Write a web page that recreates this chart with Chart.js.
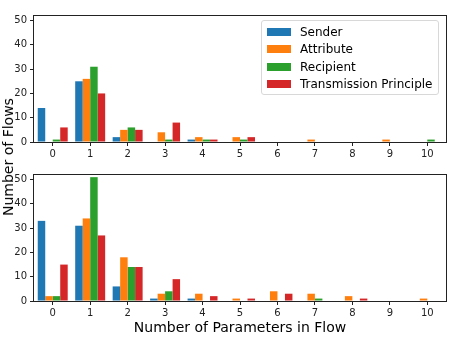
<!DOCTYPE html>
<html>
<head>
<meta charset="utf-8">
<script src="https://cdn.jsdelivr.net/npm/chart.js@4"></script>
<style>
  body { margin: 0; background: #fff; }
  #wrap { position: relative; width: 463px; height: 347px; font-family: "DejaVu Sans", sans-serif; color: #000; }
  #top { position: absolute; left: 0; top: 0; }
  #bottom { position: absolute; left: 0; top: 165px; }
  .ylabel { position: absolute; left: 8px; top: 157px; font-size: 14px; white-space: nowrap;
            transform: translate(-50%, -50%) rotate(-90deg); }
  .xlabel { position: absolute; left: 240px; top: 327px; font-size: 14px; white-space: nowrap;
            transform: translate(-50%, -50%); }
  .legend { position: absolute; left: 261px; top: 20px; width: 176px; height: 73px;
            border: 1px solid #d8d8d8; border-radius: 3px; background: rgba(255,255,255,0.8); font-size: 12px; }
  .legend div { position: absolute; left: 38px; white-space: nowrap; line-height: 14px; }
  .legend span { position: absolute; left: -33px; top: 3px; width: 24px; height: 8px; }
</style>
</head>
<body>
<div id="wrap">
  <canvas id="top" width="463" height="165"></canvas>
  <canvas id="bottom" width="463" height="182"></canvas>
  <div class="ylabel">Number of Flows</div>
  <div class="xlabel">Number of Parameters in Flow</div>
  <div class="legend" id="legend"></div>
</div>
<script>
"use strict";

var categories = ['0', '1', '2', '3', '4', '5', '6', '7', '8', '9', '10'];
var seriesNames = ['Sender', 'Attribute', 'Recipient', 'Transmission Principle'];
var colors = ['#1f77b4', '#ff7f0e', '#2ca02c', '#d62728'];
var yTicks = [0, 10, 20, 30, 40, 50];

// top panel
var topSender       = [14, 25, 2, 0, 1, 0, 0, 0, 0, 0, 0];
var topAttribute    = [0, 26, 5, 4, 2, 2, 0, 1, 0, 1, 0];
var topRecipient    = [1, 31, 6, 1, 1, 1, 0, 0, 0, 0, 1];
var topTransmission = [6, 20, 5, 8, 1, 2, 0, 0, 0, 0, 0];

// bottom panel
var botSender       = [33, 31, 6, 1, 1, 0, 0, 0, 0, 0, 0];
var botAttribute    = [2, 34, 18, 3, 3, 1, 4, 3, 2, 0, 1];
var botRecipient    = [2, 51, 14, 4, 0, 0, 0, 1, 0, 0, 0];
var botTransmission = [15, 27, 14, 9, 2, 1, 3, 0, 1, 0, 0];

var framePlugin = {
    id: 'frame',
    afterDraw: function (chart) {
        var a = chart.chartArea, ctx = chart.ctx;
        ctx.save();
        ctx.strokeStyle = '#222';
        ctx.lineWidth = 1;
        ctx.strokeRect(Math.round(a.left) - 0.5, Math.round(a.top) + 0.5,
            Math.round(a.right - a.left) + 1, Math.round(a.bottom - a.top));
        ctx.restore();
    }
};

function $each(arr, fn) { for (var i = 0; i < arr.length; i++) fn(i, arr[i]); }

function MakeChart(canvasId, values, xHeight, padTop) {
    var datasets = [];
    $each(values, function (i, v) {
        datasets.push({
            label: seriesNames[i],
            data: v,
            backgroundColor: colors[i],
            borderWidth: 0,
            categoryPercentage: 0.8,
            barPercentage: 1.0
        });
    });
    return new Chart(document.getElementById(canvasId), {
        type: 'bar',
        data: { labels: categories, datasets: datasets },
        plugins: [framePlugin],
        options: {
            responsive: false,
            animation: false,
            events: [],
            layout: { padding: { top: padTop, right: 17, left: 0, bottom: 0 } },
            plugins: { legend: { display: false }, tooltip: { enabled: false } },
            scales: {
                x: {
                    grid: { display: true, drawOnChartArea: false, drawTicks: true, tickLength: 4, color: '#222', offset: false },
                    border: { display: false },
                    ticks: { color: '#222', padding: 2, font: { family: 'DejaVu Sans', size: 10 }, maxRotation: 0 },
                    afterFit: function (s) { s.height = xHeight; }
                },
                y: {
                    min: 0,
                    max: 52.3,
                    grid: { display: true, drawOnChartArea: false, drawTicks: true, tickLength: 4, color: '#222' },
                    border: { display: false },
                    afterBuildTicks: function (s) { s.ticks = yTicks.map(function (t) { return { value: t }; }); },
                    ticks: { color: '#222', padding: 3, font: { family: 'DejaVu Sans', size: 10 } },
                    afterFit: function (s) { s.width = 34; }
                }
            }
        }
    });
}

MakeChart('top', [topSender, topAttribute, topRecipient, topTransmission], 23, 15);
MakeChart('bottom', [botSender, botAttribute, botRecipient, botTransmission], 46, 7);

var legend = document.getElementById('legend');
$each(seriesNames, function (i, name) {
    var row = document.createElement('div');
    row.style.top = (4 + i * 17.3) + 'px';
    row.innerHTML = '<span style="background:' + colors[i] + '"></span>' + name;
    legend.appendChild(row);
});
</script>
</body>
</html>
